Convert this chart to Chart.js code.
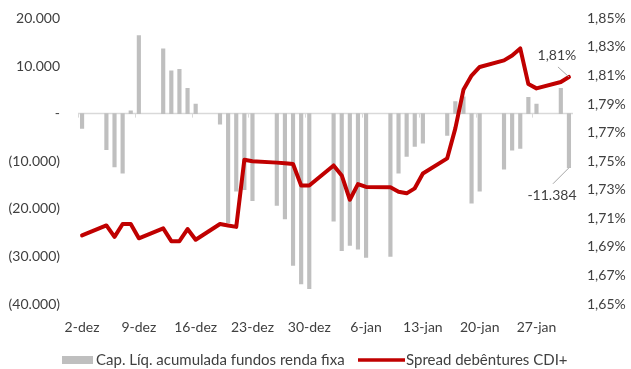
<!DOCTYPE html>
<html>
<head>
<meta charset="utf-8">
<script src="https://cdn.jsdelivr.net/npm/chart.js@4/dist/chart.umd.min.js"></script>
<style>
  html, body { margin: 0; padding: 0; background: #ffffff; }
  #wrap { width: 631px; height: 369px; }
</style>
</head>
<body>
<div id="wrap"><canvas id="chart" width="631" height="369"></canvas></div>
<script>
// Calendar days on the horizontal axis (one slot per day)
const days = [
  '2-dez','3-dez','4-dez','5-dez','6-dez','7-dez','8-dez','9-dez','10-dez','11-dez',
  '12-dez','13-dez','14-dez','15-dez','16-dez','17-dez','18-dez','19-dez','20-dez','21-dez',
  '22-dez','23-dez','24-dez','25-dez','26-dez','27-dez','28-dez','29-dez','30-dez','31-dez',
  '1-jan','2-jan','3-jan','4-jan','5-jan','6-jan','7-jan','8-jan','9-jan','10-jan',
  '11-jan','12-jan','13-jan','14-jan','15-jan','16-jan','17-jan','18-jan','19-jan','20-jan',
  '21-jan','22-jan','23-jan','24-jan','25-jan','26-jan','27-jan','28-jan','29-jan','30-jan',
  '31-jan'
];

// Net inflow of fixed income funds (R$ mi), business days only
const captacao = [
  -3100, null, null, -7600, -11200, -12500, 600, 16400, null, null,
  13600, 9000, 9300, 5300, 2000, null, null, -2200, -22900, -16300,
  -16000, -18300, null, null, -19300, -22100, -31900, -35800, -36800, null,
  null, -22600, -28800, -27700, -28500, -30200, null, null, -30000, -12500,
  -9000, -6900, -6200, null, null, -4600, 2500, 3500, -18800, -16300,
  null, null, -11700, -7700, -7300, 3400, 2000, null, null, 5300,
  -11384
];

// CDI+ debenture spread (%), business days only
const spread = [
  1.698, null, null, 1.705, 1.697, 1.706, 1.706, 1.696, null, null,
  1.703, 1.694, 1.694, 1.7025, 1.695, null, null, 1.706, 1.705, 1.704,
  1.751, 1.750, null, null, 1.749, 1.7485, 1.748, 1.733, 1.733, null,
  null, 1.747, 1.740, 1.723, 1.734, 1.732, null, null, 1.7317, 1.7286,
  1.7275, 1.731, 1.7414, null, null, 1.752, 1.773, 1.800, 1.810, 1.816,
  null, null, 1.8206, 1.824, 1.829, 1.804, 1.801, null, null, 1.8055,
  1.809
];

// Axis ranges and tick steps
const leftTicks = { min: -40000, max: 20000, step: 10000 };
const rightTicks = { min: 1.65, max: 1.85, step: 0.02 };
const labelEvery = 7;

const seriesNames = ['Cap. Líq. acumulada fundos renda fixa', 'Spread debêntures CDI+'];

const FONT = 'Lato, "Open Sans", sans-serif';
const TEXT = '#404040';
const BAR = '#bfbfbf';
const RED = '#c00000';

function fmtThousands(v) {
  return Math.round(Math.abs(v)).toString().replace(/\B(?=(\d{3})+(?!\d))/g, '.');
}
function fmtLeft(v) {
  if (v === 0) return '-';
  return v < 0 ? '(' + fmtThousands(v) + ')' : fmtThousands(v);
}
function fmtPct(v) {
  return v.toFixed(2).replace('.', ',') + '%';
}

// Zero line with weekly tick marks
const zeroAxis = {
  id: 'zeroAxis',
  beforeDatasetsDraw(chart) {
    const { ctx, chartArea, scales } = chart;
    const y0 = scales.y.getPixelForValue(0);
    const xs = scales.x;
    const slot = (xs.getPixelForValue(1) - xs.getPixelForValue(0));
    ctx.save();
    ctx.strokeStyle = '#d9d9d9';
    ctx.lineWidth = 1.5;
    ctx.beginPath();
    ctx.moveTo(chartArea.left, y0);
    ctx.lineTo(chartArea.right, y0);
    ctx.stroke();
    ctx.lineWidth = 1;
    ctx.beginPath();
    for (let i = 0; i < days.length; i += labelEvery) {
      const x = Math.round(xs.getPixelForValue(i) - slot / 2) + 0.5;
      ctx.moveTo(x, y0);
      ctx.lineTo(x, y0 + 4);
    }
    ctx.stroke();
    ctx.restore();
  }
};

// Value labels on the last point of each series, with leader lines
const lastLabels = {
  id: 'lastLabels',
  afterDatasetsDraw(chart) {
    const { ctx } = chart;
    const last = days.length - 1;
    ctx.save();
    ctx.font = '14px ' + FONT;
    ctx.fillStyle = TEXT;
    ctx.textAlign = 'center';
    ctx.textBaseline = 'middle';
    ctx.strokeStyle = '#a6a6a6';
    ctx.lineWidth = 1;

    const lp = chart.getDatasetMeta(1).data[last];
    ctx.beginPath();
    ctx.moveTo(lp.x, lp.y);
    ctx.lineTo(lp.x - 11, lp.y - 10);
    ctx.stroke();
    ctx.fillText(fmtPct(spread[last]), lp.x - 12, lp.y - 21);

    const bp = chart.getDatasetMeta(0).data[last];
    ctx.beginPath();
    ctx.moveTo(bp.x, bp.y);
    ctx.lineTo(bp.x - 16, bp.y + 16);
    ctx.stroke();
    ctx.fillText('-' + fmtThousands(captacao[last]), bp.x - 17, bp.y + 28);
    ctx.restore();
  }
};

// Legend below the plot
const bottomLegend = {
  id: 'bottomLegend',
  afterDraw(chart) {
    const { ctx } = chart;
    const y = 360;
    ctx.save();
    ctx.font = '15px ' + FONT;
    ctx.textBaseline = 'middle';
    ctx.textAlign = 'left';

    ctx.fillStyle = BAR;
    ctx.fillRect(62, y - 4, 31, 8);
    ctx.fillStyle = TEXT;
    ctx.fillText(seriesNames[0], 96, y);

    ctx.strokeStyle = RED;
    ctx.lineWidth = 3.5;
    ctx.beginPath();
    ctx.moveTo(358, y);
    ctx.lineTo(405, y);
    ctx.stroke();
    ctx.fillText(seriesNames[1], 406, y);
    ctx.restore();
  }
};

new Chart(document.getElementById('chart'), {
  data: {
    labels: days,
    datasets: [
      {
        type: 'bar',
        label: seriesNames[0],
        data: captacao,
        backgroundColor: BAR,
        barThickness: 3.5,
        yAxisID: 'y',
        order: 2
      },
      {
        type: 'line',
        label: seriesNames[1],
        data: spread,
        borderColor: RED,
        borderWidth: 4,
        borderJoinStyle: 'round',
        borderCapStyle: 'round',
        pointRadius: 0,
        tension: 0,
        spanGaps: true,
        yAxisID: 'y1',
        order: 1
      }
    ]
  },
  options: {
    responsive: false,
    animation: false,
    layout: { padding: { top: 18, bottom: 35, left: 0, right: 0 } },
    plugins: {
      legend: { display: false },
      tooltip: { enabled: false }
    },
    scales: {
      x: {
        type: 'category',
        offset: true,
        grid: { display: false },
        border: { display: false },
        ticks: {
          autoSkip: false,
          maxRotation: 0,
          padding: 7,
          color: TEXT,
          font: { family: FONT, size: 14 },
          callback: (v, i) => (i % labelEvery === 0 ? days[i] : '')
        },
        afterFit: s => { s.height = 30; }
      },
      y: {
        position: 'left',
        min: leftTicks.min,
        max: leftTicks.max,
        grid: { display: false },
        border: { display: false },
        ticks: {
          stepSize: leftTicks.step,
          color: TEXT,
          padding: 10,
          font: { family: FONT, size: 14 },
          callback: v => fmtLeft(v)
        },
        afterFit: s => { s.width = 78; }
      },
      y1: {
        position: 'right',
        min: rightTicks.min,
        max: rightTicks.max,
        grid: { display: false },
        border: { display: false },
        ticks: {
          stepSize: rightTicks.step,
          color: TEXT,
          padding: 6,
          font: { family: FONT, size: 14 },
          callback: v => fmtPct(v)
        },
        afterFit: s => { s.width = 58; }
      }
    }
  },
  plugins: [zeroAxis, lastLabels, bottomLegend]
});
</script>
</body>
</html>
